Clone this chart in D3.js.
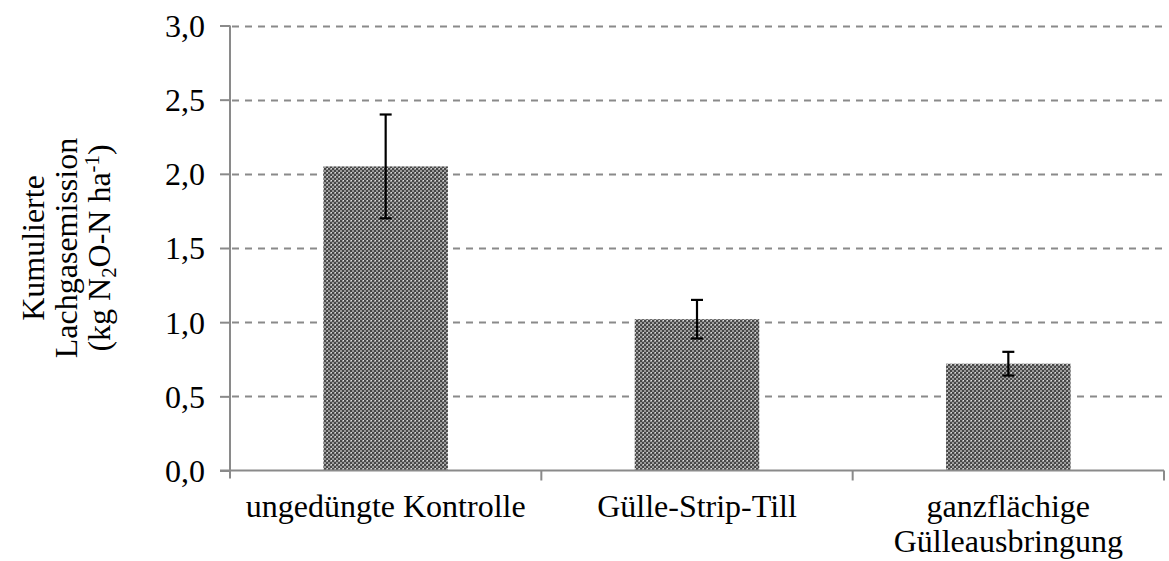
<!DOCTYPE html>
<html>
<head>
<meta charset="utf-8">
<script src="https://cdn.jsdelivr.net/npm/d3@7"></script>
<style>
  html, body { margin: 0; padding: 0; background: #fff; }
  svg { display: block; }
  text { font-family: "Liberation Serif", "Times New Roman", serif; fill: #000; }
</style>
</head>
<body>
<svg id="chart" width="1169" height="561"></svg>
<script>
// Cumulative N2O emission per treatment (mean and error)
const categories = [["ungedüngte Kontrolle"], ["Gülle-Strip-Till"], ["ganzflächige", "Gülleausbringung"]];
const values = [2.05, 1.02, 0.72];
const errors = [0.35, 0.13, 0.08];
const yTicks = [0, 0.5, 1.0, 1.5, 2.0, 2.5, 3.0];

(function () {
  const svg = d3.select("#chart");
  const plotLeft = 230, plotRight = 1164, plotTop = 25.5, plotBottom = 470.5;
  const axisColor = "#8a8a8a";
  const fontSize = 32;

  const x = d3.scaleBand().domain(d3.range(categories.length)).range([plotLeft, plotRight]).padding(0);
  const y = d3.scaleLinear().domain([0, 3]).range([plotBottom, plotTop]);
  const barW = x.bandwidth() * 0.4;

  // checkered fill for the bars
  const defs = svg.append("defs");
  const pat = defs.append("pattern").attr("id", "checker")
    .attr("patternUnits", "userSpaceOnUse").attr("width", 4).attr("height", 4);
  pat.append("rect").attr("width", 4).attr("height", 4).attr("fill", "#9a9a9a");
  pat.append("rect").attr("x", 0).attr("y", 0).attr("width", 2).attr("height", 2).attr("fill", "#474747");
  pat.append("rect").attr("x", 2).attr("y", 2).attr("width", 2).attr("height", 2).attr("fill", "#474747");
  pat.append("rect").attr("x", 3).attr("y", 0).attr("width", 1).attr("height", 1).attr("fill", "#dcdcdc");

  // dashed gridlines
  svg.append("g").selectAll("line").data(yTicks.filter(d => d > 0)).join("line")
    .attr("x1", plotLeft + 2).attr("x2", plotRight)
    .attr("y1", d => Math.round(y(d)) + 0.5).attr("y2", d => Math.round(y(d)) + 0.5)
    .attr("stroke", axisColor).attr("stroke-width", 2).attr("stroke-dasharray", "7,6");

  // bars
  svg.append("g").selectAll("rect").data(values).join("rect")
    .attr("x", (d, i) => x(i) + (x.bandwidth() - barW) / 2)
    .attr("width", barW)
    .attr("y", d => y(d))
    .attr("height", d => y(0) - y(d))
    .attr("fill", "url(#checker)");

  // error bars
  const eb = svg.append("g").attr("stroke", "#000").attr("stroke-width", 2.2);
  values.forEach((v, i) => {
    const cx = x(i) + x.bandwidth() / 2;
    eb.append("line").attr("x1", cx).attr("x2", cx).attr("y1", y(v + errors[i])).attr("y2", y(v - errors[i]));
    eb.append("line").attr("x1", cx - 6).attr("x2", cx + 6).attr("y1", y(v + errors[i])).attr("y2", y(v + errors[i]));
    eb.append("line").attr("x1", cx - 6).attr("x2", cx + 6).attr("y1", y(v - errors[i])).attr("y2", y(v - errors[i]));
  });

  // y axis
  const yAxis = svg.append("g").attr("transform", `translate(${plotLeft},0)`)
    .call(d3.axisLeft(y).tickValues(yTicks).tickSize(10).tickPadding(15)
      .tickFormat(d => d3.format(".1f")(d).replace(".", ",")));
  yAxis.select(".domain").attr("stroke", axisColor).attr("stroke-width", 2).attr("d", `M0,${plotTop}V${plotBottom + 8}`);
  yAxis.selectAll(".tick line").attr("stroke", axisColor).attr("stroke-width", 2);
  yAxis.selectAll(".tick text").attr("font-size", fontSize).attr("font-family", "Liberation Serif").attr("dy", "0.34em");

  // x axis
  const xAxis = svg.append("g").attr("transform", `translate(0,${plotBottom})`);
  xAxis.append("line").attr("x1", plotLeft - 10).attr("x2", plotRight).attr("y1", 0).attr("y2", 0)
    .attr("stroke", axisColor).attr("stroke-width", 2);
  xAxis.selectAll("line.tk").data(d3.range(1, categories.length + 1)).join("line").attr("class", "tk")
    .attr("x1", i => i < categories.length ? x(i) : plotRight).attr("x2", i => i < categories.length ? x(i) : plotRight)
    .attr("y1", 0).attr("y2", 10).attr("stroke", axisColor).attr("stroke-width", 2);

  const labels = svg.append("g");
  categories.forEach((lines, i) => {
    const cx = x(i) + x.bandwidth() / 2;
    const t = labels.append("text").attr("text-anchor", "middle").attr("font-size", fontSize)
      .attr("x", cx).attr("y", 517);
    lines.forEach((s, k) => t.append("tspan").attr("x", cx).attr("dy", k === 0 ? 0 : 35).text(s));
  });

  // y axis title
  const title = svg.append("text").attr("text-anchor", "middle").attr("font-size", fontSize)
    .attr("transform", "translate(0,248) rotate(-90)");
  title.append("tspan").attr("x", 0).attr("y", 44).text("Kumulierte");
  title.append("tspan").attr("x", 0).attr("y", 77).text("Lachgasemission");
  const l3 = title.append("tspan").attr("x", 0).attr("y", 110);
  l3.append("tspan").text("(kg N");
  l3.append("tspan").attr("font-size", fontSize * 0.65).attr("dy", 6).text("2");
  l3.append("tspan").attr("dy", -6).text("O-N ha");
  l3.append("tspan").attr("font-size", fontSize * 0.65).attr("dy", -11).text("-1");
  l3.append("tspan").attr("dy", 11).text(")");
})();
</script>
</body>
</html>
